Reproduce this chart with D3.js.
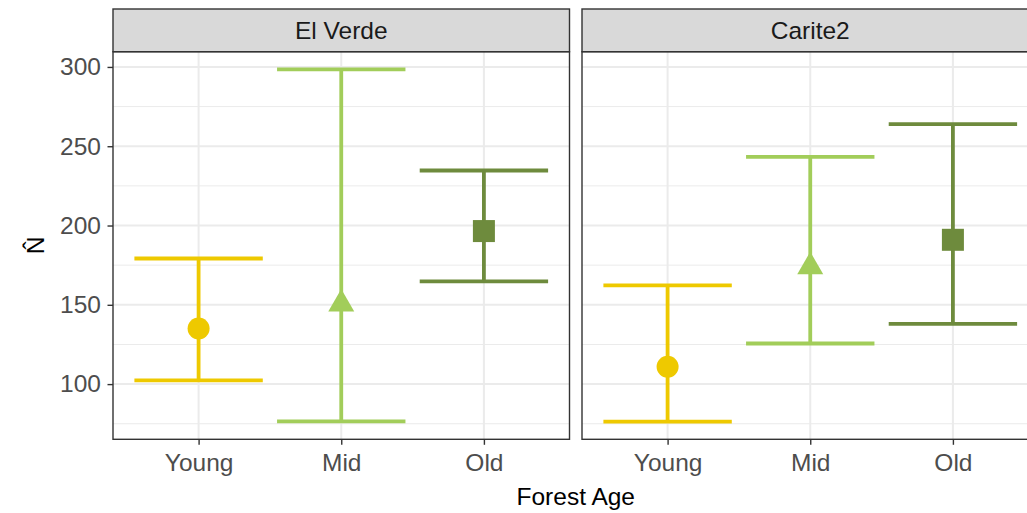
<!DOCTYPE html>
<html>
<head>
<meta charset="utf-8">
<script src="https://cdn.jsdelivr.net/npm/d3@7"></script>
<style>
  html, body { margin: 0; padding: 0; background: #fff; }
  svg { display: block; font-family: "Liberation Sans", Arial, Helvetica, sans-serif; }
</style>
</head>
<body>
<svg id="chart" width="1027" height="513"></svg>
<script>
// Population estimates (N-hat) with confidence limits, by site and forest age
const sites = ["El Verde", "Carite2"];
const ages = ["Young", "Mid", "Old"];
const estimateElVerde = [135, 150.5, 196.5];
const lowerElVerde    = [102.3, 76.5, 164.8];
const upperElVerde    = [179.2, 298.5, 234.7];
const estimateCarite2 = [111, 174, 191];
const lowerCarite2    = [76.3, 125.6, 138];
const upperCarite2    = [162.3, 243.3, 264];
const yTicks = [100, 150, 200, 250, 300];
const yMinor = [75, 125, 175, 225, 275];

const colors = { Young: "#EEC900", Mid: "#A2CD5A", Old: "#6E8B3D" };
const shapes = { Young: "circle", Mid: "triangle", Old: "square" };

const seriesBySite = {
  "El Verde": ages.map((a, i) => ({ age: a, est: estimateElVerde[i], lo: lowerElVerde[i], hi: upperElVerde[i] })),
  "Carite2":  ages.map((a, i) => ({ age: a, est: estimateCarite2[i], lo: lowerCarite2[i], hi: upperCarite2[i] }))
};

const svg = d3.select("#chart");

// layout
const panelLeft = 113, panelWidth = 456.5, panelGap = 12.5;
const stripTop = 9, stripBottom = 51.7, panelBottom = 439.3;

// shared y scale with 5% expansion like ggplot
const allVals = sites.flatMap(s => seriesBySite[s].flatMap(d => [d.lo, d.hi, d.est]));
const ymin = d3.min(allVals), ymax = d3.max(allVals);
const pad = (ymax - ymin) * 0.05;
const y = d3.scaleLinear().domain([ymin - pad, ymax + pad]).range([panelBottom, stripBottom]);

// discrete x with 0.6 expansion on each side
const xUnit = panelWidth / 3.2;
const capHalf = 0.45 * xUnit;

sites.forEach((site, si) => {
  const x0 = panelLeft + si * (panelWidth + panelGap);
  const x = d3.scalePoint().domain(ages).range([x0 + 0.6 * xUnit, x0 + 2.6 * xUnit]);
  const g = svg.append("g");

  // panel background
  g.append("rect").attr("x", x0).attr("y", stripBottom)
    .attr("width", panelWidth).attr("height", panelBottom - stripBottom)
    .attr("fill", "#fff");

  // minor gridlines
  g.selectAll(".minor").data(yMinor).join("line")
    .attr("x1", x0).attr("x2", x0 + panelWidth)
    .attr("y1", d => y(d)).attr("y2", d => y(d))
    .attr("stroke", "#EBEBEB").attr("stroke-width", 1);

  // major gridlines
  g.selectAll(".major").data(yTicks).join("line")
    .attr("x1", x0).attr("x2", x0 + panelWidth)
    .attr("y1", d => y(d)).attr("y2", d => y(d))
    .attr("stroke", "#EBEBEB").attr("stroke-width", 2);
  g.selectAll(".vmajor").data(ages).join("line")
    .attr("x1", d => x(d)).attr("x2", d => x(d))
    .attr("y1", stripBottom).attr("y2", panelBottom)
    .attr("stroke", "#EBEBEB").attr("stroke-width", 2);

  const data = seriesBySite[site];

  // error bars
  const eb = g.selectAll(".eb").data(data).join("g");
  eb.append("line")
    .attr("x1", d => x(d.age)).attr("x2", d => x(d.age))
    .attr("y1", d => y(d.lo)).attr("y2", d => y(d.hi))
    .attr("stroke", d => colors[d.age]).attr("stroke-width", 3.8);
  eb.append("line")
    .attr("x1", d => x(d.age) - capHalf).attr("x2", d => x(d.age) + capHalf)
    .attr("y1", d => y(d.hi)).attr("y2", d => y(d.hi))
    .attr("stroke", d => colors[d.age]).attr("stroke-width", 3.8);
  eb.append("line")
    .attr("x1", d => x(d.age) - capHalf).attr("x2", d => x(d.age) + capHalf)
    .attr("y1", d => y(d.lo)).attr("y2", d => y(d.lo))
    .attr("stroke", d => colors[d.age]).attr("stroke-width", 3.8);

  // point estimates
  data.forEach(d => {
    const cx = x(d.age), cy = y(d.est), c = colors[d.age];
    if (shapes[d.age] === "circle") {
      g.append("circle").attr("cx", cx).attr("cy", cy).attr("r", 11).attr("fill", c);
    } else if (shapes[d.age] === "square") {
      g.append("rect").attr("x", cx - 11).attr("y", cy - 11).attr("width", 22).attr("height", 22).attr("fill", c);
    } else {
      const r = 15, hw = 0.866 * r;
      g.append("path")
        .attr("d", `M${cx},${cy - r}L${cx + hw},${cy + r / 2}L${cx - hw},${cy + r / 2}Z`)
        .attr("fill", c);
    }
  });

  // panel border
  g.append("rect").attr("x", x0).attr("y", stripBottom)
    .attr("width", panelWidth).attr("height", panelBottom - stripBottom)
    .attr("fill", "none").attr("stroke", "#333").attr("stroke-width", 1.4);

  // strip
  g.append("rect").attr("x", x0).attr("y", stripTop)
    .attr("width", panelWidth).attr("height", stripBottom - stripTop)
    .attr("fill", "#D9D9D9").attr("stroke", "#333").attr("stroke-width", 1.4);
  g.append("text").attr("x", x0 + panelWidth / 2).attr("y", (stripTop + stripBottom) / 2 + 8.5)
    .attr("text-anchor", "middle").attr("font-size", 24.5).attr("fill", "#1A1A1A")
    .text(site);

  // x axis
  const xAxis = d3.axisBottom(x).tickSize(5.5).tickPadding(8.5);
  const xa = g.append("g").attr("transform", `translate(0,${panelBottom})`).call(xAxis);
  xa.select(".domain").remove();
  xa.selectAll(".tick line").attr("stroke", "#333").attr("stroke-width", 1.4);
  xa.selectAll(".tick text").attr("font-size", 24.5).attr("fill", "#4D4D4D")
    .attr("font-family", "Liberation Sans, Arial, sans-serif");

  // y axis on first panel only
  if (si === 0) {
    const yAxis = d3.axisLeft(y).tickValues(yTicks).tickSize(5.5).tickPadding(6.5);
    const ya = g.append("g").attr("transform", `translate(${x0},0)`).call(yAxis);
    ya.select(".domain").remove();
    ya.selectAll(".tick line").attr("stroke", "#333").attr("stroke-width", 1.4);
    ya.selectAll(".tick text").attr("font-size", 24.5).attr("fill", "#4D4D4D")
      .attr("font-family", "Liberation Sans, Arial, sans-serif");
  }
});

// axis titles
const plotLeft = panelLeft, plotRight = panelLeft + 2 * panelWidth + panelGap;
svg.append("text").attr("x", (plotLeft + plotRight) / 2).attr("y", 505)
  .attr("text-anchor", "middle").attr("font-size", 24.5).attr("fill", "#000")
  .text("Forest Age");
svg.append("text")
  .attr("transform", `translate(44,${(stripBottom + panelBottom) / 2}) rotate(-90)`)
  .attr("text-anchor", "middle").attr("font-size", 24.5).attr("fill", "#000")
  .text("N\u0302");
</script>
</body>
</html>
